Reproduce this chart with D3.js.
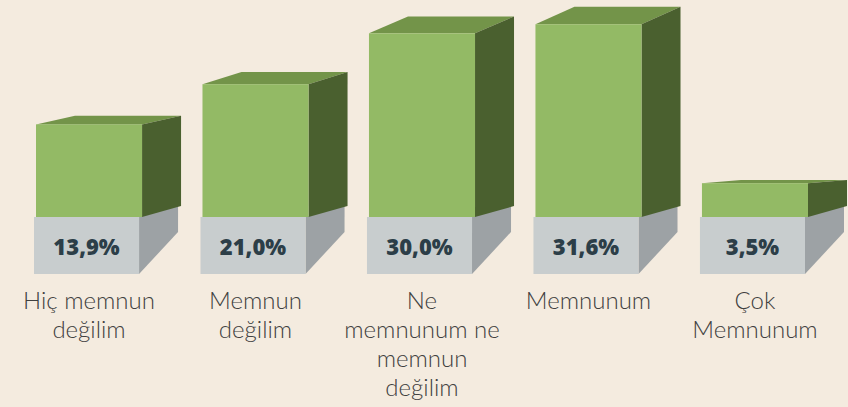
<!DOCTYPE html>
<html lang="en">
<head>
<meta charset="UTF-8">
<title>Memnuniyet</title>
<script src="https://d3js.org/d3.v7.min.js"></script>
<style>
    body { margin: 0; background: #f4ebdf; }
    svg { display: block; }
</style>
</head>
<body>
<svg id="chart" width="848" height="407"></svg>
<script>
    // data
    const categories = ["Hiç memnun değilim", "Memnun değilim", "Ne memnunum ne memnun değilim", "Memnunum", "Çok Memnunum"];
    const tickLines = [["Hiç memnun", "değilim"], ["Memnun", "değilim"], ["Ne", "memnunum ne", "memnun", "değilim"], ["Memnunum"], ["Çok", "Memnunum"]];
    const values = [13.9, 21.0, 30.0, 31.6, 3.5];

    const svg = d3.select("#chart");
    svg.append("rect").attr("width", 848).attr("height", 407).attr("fill", "#f4ebdf");

    const greenBase = 217,   // where green block meets the grey plinth
        greyBase = 274,      // bottom of grey plinth
        depth = 39,          // side face width
        greyDrop = 42;       // rise of the grey plinth's bottom back edge

    const x = d3.scaleBand()
        .domain(categories)
        .range([36, 808])
        .paddingInner(0.363)
        .paddingOuter(0);

    const y = d3.scaleLinear()
        .domain([0, 32])
        .range([203, 22]);

    const fmt = v => d3.format(".1f")(v).replace(".", ",") + "%";

    const bars = svg.selectAll(".bar")
        .data(values.map((v, i) => ({ cat: categories[i], value: v, lines: tickLines[i] })))
        .enter().append("g")
        .attr("class", "bar");

    bars.each(function (d) {
        const g = d3.select(this);
        const x0 = x(d.cat), x1 = x0 + x.bandwidth();
        const top = y(d.value);
        const dyTop = -Math.max(3, (220 - top) * 0.09);
        const dyMid = -11;

        // grey plinth: side then front
        const gx0 = x0 - 2, gx1 = x1 - 3;
        g.append("path")
            .attr("d", `M${gx1},${greenBase}L${gx1 + depth},${greenBase + dyMid}L${gx1 + depth},${greyBase - greyDrop}L${gx1},${greyBase}Z`)
            .attr("fill", "#9da2a5");
        g.append("rect")
            .attr("x", gx0).attr("y", greenBase)
            .attr("width", gx1 - gx0).attr("height", greyBase - greenBase)
            .attr("fill", "#c8cdce");

        // green block: top, side, front
        g.append("path")
            .attr("d", `M${x0},${top}L${x0 + depth},${top + dyTop}L${x1 + depth},${top + dyTop}L${x1},${top}Z`)
            .attr("fill", "#739449");
        g.append("path")
            .attr("d", `M${x1},${top}L${x1 + depth},${top + dyTop}L${x1 + depth},${greenBase + dyMid}L${x1},${greenBase}Z`)
            .attr("fill", "#4a602f");
        g.append("rect")
            .attr("x", x0).attr("y", top)
            .attr("width", x.bandwidth()).attr("height", greenBase - top)
            .attr("fill", "#93ba65");

        // value label
        g.append("text")
            .attr("x", (gx0 + gx1) / 2)
            .attr("y", (greenBase + greyBase) / 2)
            .attr("text-anchor", "middle")
            .attr("dominant-baseline", "central")
            .style("font-family", "'Open Sans', sans-serif")
            .style("font-weight", 800)
            .style("font-size", "22px")
            .style("fill", "#2c3e48")
            .text(fmt(d.value));

        // category label
        const t = g.append("text")
            .attr("text-anchor", "middle")
            .style("font-family", "Lato, sans-serif")
            .style("font-weight", 300)
            .style("font-size", "24px")
            .style("fill", "#404040");
        d.lines.forEach((line, i) => {
            t.append("tspan")
                .attr("x", x0 + x.bandwidth() / 2)
                .attr("y", 309 + i * 29)
                .text(line);
        });
    });
</script>
</body>
</html>
